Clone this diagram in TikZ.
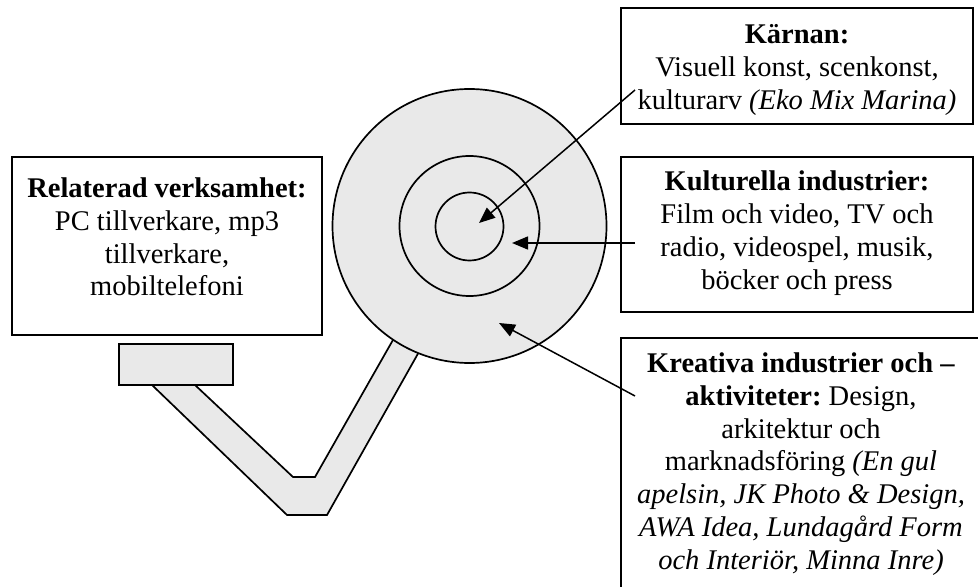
\documentclass[tikz,border=0pt]{standalone}
\usepackage{fontspec}
\setmainfont{Liberation Serif}
\usetikzlibrary{arrows.meta}
\definecolor{ringfill}{RGB}{233,233,233}
\frenchspacing
\begin{document}
\begin{tikzpicture}[x=0.5pt,y=-0.5pt,
  box/.style={draw, line width=1.1pt, fill=white, inner sep=0, rectangle},
  txt/.style={align=center, inner sep=0, font=\fontsize{14.25}{16.4}\selectfont},
  ring/.style={draw, line width=0.85pt, fill=ringfill},
  pointer/.style={line width=0.75pt, -{Triangle[length=8pt,width=6.5pt]}}]
\useasboundingbox (0,0) rectangle (978,587);

% cord from the plug to the disc
\draw[ring, line join=miter] (152,385) -- (287,515) -- (327,515) -- (433,327)
  -- (410,310) -- (315,477) -- (293,477) -- (195,385) -- cycle;

% plug
\node[ring, rectangle, inner sep=0, minimum width=57pt, minimum height=20.5pt] (plug) at (176,364.5) {};

% concentric circles
\node[ring, circle, inner sep=0, minimum size=137pt] (outer) at (469.5,226) {};
\node[draw, line width=0.85pt, circle, inner sep=0, minimum size=70pt] (middle) at (469.5,226) {};
\node[draw, line width=0.85pt, circle, inner sep=0, minimum size=34pt] (inner) at (469.5,226.5) {};

% text boxes
\node[box, minimum width=176pt, minimum height=58pt] (kbox) at (797,66) {};
\node[box, minimum width=176pt, minimum height=77.5pt] (cbox) at (797,234.5) {};
\node[box, minimum width=155pt, minimum height=89pt] (rbox) at (167,246) {};
\node[box, minimum width=180.5pt, minimum height=131pt] (abox) at (801.5,469) {};

% pointers into the rings
\coordinate (k0) at (635,90);  \coordinate (k1) at (479,223);
\coordinate (c0) at (635,243); \coordinate (c1) at (512,243);
\coordinate (a0) at (635,396); \coordinate (a1) at (499,323);
\draw[pointer] (k0) -- (k1);
\draw[pointer] (c0) -- (c1);
\draw[pointer] (a0) -- (a1);

% labels
\node[txt] (ktext) at (797,70) {\textbf{Kärnan:}\\Visuell konst, scenkonst,\\kulturarv \textit{(Eko Mix Marina)}};
\node[txt] (ctext) at (797,233) {\textbf{Kulturella industrier:}\\Film och video, TV och\\radio, videospel, musik,\\böcker och press};
\node[txt] (rtext) at (167,237) {\textbf{Relaterad verksamhet:}\\PC tillverkare, mp3\\tillverkare,\\mobiltelefoni};
\node[txt] (atext) at (801,464) {\textbf{Kreativa industrier och –}\\\textbf{aktiviteter:} Design,\\arkitektur och\\marknadsföring \textit{(En gul}\\\textit{apelsin, JK Photo \& Design,}\\\textit{AWA Idea, Lundagård Form}\\\textit{och Interiör, Minna Inre)}};
\end{tikzpicture}
\end{document}
